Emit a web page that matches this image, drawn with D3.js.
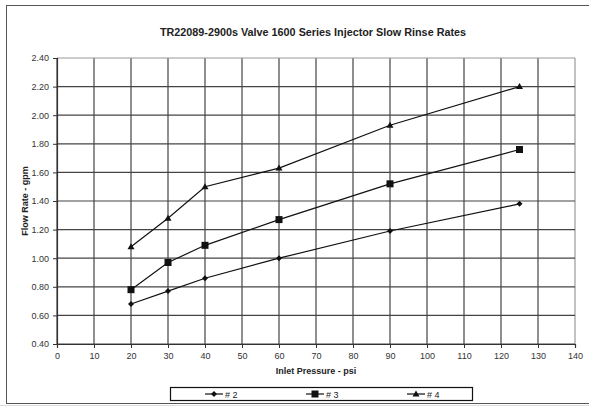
<!DOCTYPE html>
<html><head><meta charset="utf-8">
<script src="https://cdn.jsdelivr.net/npm/d3@7"></script>
<style>body{margin:0;background:#fff;}svg{display:block;font-family:"Liberation Sans",Arial,sans-serif;}</style>
</head><body>
<svg id="c" width="589" height="407"></svg>
<script>
const pressures = [20, 30, 40, 60, 90, 125];
const series2 = [0.68, 0.77, 0.86, 1.00, 1.19, 1.38];
const series3 = [0.78, 0.97, 1.09, 1.27, 1.52, 1.76];
const series4 = [1.08, 1.28, 1.50, 1.63, 1.93, 2.20];
const seriesNames = ["# 2", "# 3", "# 4"];
const markerTypes = ["diamond", "square", "triangle"];
const xTicks = [0,10,20,30,40,50,60,70,80,90,100,110,120,130,140];
const yTicks = [0.4,0.6,0.8,1.0,1.2,1.4,1.6,1.8,2.0,2.2,2.4];
const title = "TR22089-2900s Valve 1600 Series Injector Slow Rinse Rates";
const xLabel = "Inlet Pressure - psi";
const yLabel = "Flow Rate - gpm";

const svg = d3.select("#c");
const L = 57, R = 575, T = 58, B = 344;
const x = d3.scaleLinear().domain([0,140]).range([L,R]);
const y = d3.scaleLinear().domain([0.4,2.4]).range([B,T]);

// outer frame
svg.append("rect").attr("x",6.5).attr("y",5.5).attr("width",590).attr("height",398)
  .attr("fill","#fff").attr("stroke","#555").attr("stroke-width",1);
svg.append("line").attr("x1",0).attr("x2",589).attr("y1",405.5).attr("y2",405.5).attr("stroke","#ddd");

// title
svg.append("text").attr("x",313).attr("y",36).attr("text-anchor","middle")
  .attr("font-size",10.8).attr("font-weight","bold").attr("fill","#222").text(title);

// grid
const g = svg.append("g");
g.selectAll(".vg").data(xTicks).join("line")
  .attr("x1",d=>x(d)).attr("x2",d=>x(d)).attr("y1",T).attr("y2",B)
  .attr("stroke",(d,i)=> i===xTicks.length-1 ? "#999" : "#444").attr("stroke-width",1.2);
g.selectAll(".hg").data(yTicks).join("line")
  .attr("x1",L).attr("x2",R).attr("y1",d=>y(d)).attr("y2",d=>y(d))
  .attr("stroke",(d,i)=> i===yTicks.length-1 ? "#999" : "#444").attr("stroke-width",1.2);

// axes
const xAxis = d3.axisBottom(x).tickValues(xTicks).tickSize(4).tickFormat(d3.format("d"));
const yAxis = d3.axisLeft(y).tickValues(yTicks).tickSize(4).tickFormat(d3.format(".2f"));
const gx = svg.append("g").attr("transform",`translate(0,${B})`).call(xAxis);
const gy = svg.append("g").attr("transform",`translate(${L},0)`).call(yAxis);
[gx,gy].forEach(a=>{
  a.select(".domain").attr("stroke","#333").attr("stroke-width",1.2);
  a.selectAll(".tick line").attr("stroke","#333");
  a.selectAll("text").attr("font-size",9).attr("fill","#333").attr("font-family","'Liberation Sans',Arial,sans-serif");
});
gx.selectAll("text").attr("dy","0.9em");
gy.selectAll("text").attr("dx","-1px");

// axis labels
svg.append("text").attr("x",316).attr("y",374).attr("text-anchor","middle")
  .attr("font-size",9).attr("font-weight","bold").attr("fill","#222").text(xLabel);
svg.append("text").attr("transform","translate(28,201) rotate(-90)").attr("text-anchor","middle")
  .attr("font-size",9).attr("font-weight","bold").attr("fill","#222").text(yLabel);

// series
const allSeries = [series2, series3, series4];
const line = d3.line().x((d,i)=>x(pressures[i])).y(d=>y(d));
function marker(sel, type, cx, cy){
  if(type==="diamond"){
    sel.append("path").attr("d",`M${cx},${cy-3}L${cx+3},${cy}L${cx},${cy+3}L${cx-3},${cy}Z`).attr("fill","#111");
  } else if(type==="square"){
    sel.append("rect").attr("x",cx-3.5).attr("y",cy-3.5).attr("width",7).attr("height",7).attr("fill","#111");
  } else {
    sel.append("path").attr("d",`M${cx},${cy-3.5}L${cx+3.5},${cy+2.5}L${cx-3.5},${cy+2.5}Z`).attr("fill","#111");
  }
}
allSeries.forEach((s,k)=>{
  svg.append("path").datum(s).attr("d",line).attr("fill","none").attr("stroke","#111").attr("stroke-width",1.2);
  const mg = svg.append("g");
  s.forEach((v,i)=>marker(mg, markerTypes[k], x(pressures[i]), y(v)));
});

// legend
svg.append("rect").attr("x",170.5).attr("y",387.5).attr("width",302).attr("height",13)
  .attr("fill","#fff").attr("stroke","#111").attr("stroke-width",1.2);
const legX = [205, 306, 407];
seriesNames.forEach((n,k)=>{
  const lg = svg.append("g");
  lg.append("line").attr("x1",legX[k]).attr("x2",legX[k]+18).attr("y1",394).attr("y2",394).attr("stroke","#111").attr("stroke-width",1.2);
  marker(lg, markerTypes[k], legX[k]+9, 394);
  lg.append("text").attr("x",legX[k]+20).attr("y",397.5).attr("font-size",9).attr("fill","#222").text(n);
});
</script>
</body></html>
